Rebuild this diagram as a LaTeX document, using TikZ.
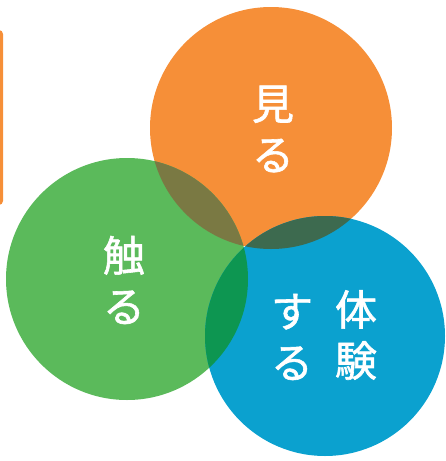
\documentclass[tikz,border=0pt]{standalone}
\usepackage{fontspec}
\newfontfamily\cjk[FakeBold=1.4]{Noto Sans CJK JP}
\definecolor{orangeC}{HTML}{F68F38}
\definecolor{greenC}{HTML}{5BBA5B}
\definecolor{blueC}{HTML}{0BA1CF}
\definecolor{ogC}{HTML}{7A7943}
\definecolor{obC}{HTML}{3D6A4F}
\definecolor{gbC}{HTML}{0D9651}
\begin{document}
\begin{tikzpicture}[x=1pt,y=-1pt,
  label/.style={text=white,align=center,inner sep=0pt,font=\cjk\fontsize{42}{51}\selectfont}]
\useasboundingbox (0,0) rectangle (445,461);
\coordinate (O) at (271,128);
\coordinate (G) at (127,279);
\coordinate (B) at (325,336);
% left bar
\fill[orangeC, rounded corners=4pt] (-12,30) rectangle (3,205);
% circles
\fill[orangeC] (O) circle[radius=121pt];
\fill[greenC] (G) circle[radius=121pt];
\fill[blueC] (B) circle[radius=120pt];
% overlaps
\begin{scope}
  \clip (O) circle[radius=121pt];
  \fill[ogC] (G) circle[radius=121pt];
\end{scope}
\begin{scope}
  \clip (O) circle[radius=121pt];
  \fill[obC] (B) circle[radius=120pt];
\end{scope}
\begin{scope}
  \clip (G) circle[radius=121pt];
  \fill[gbC] (B) circle[radius=120pt];
\end{scope}
% labels
\node[label] (miru) at (273,129) {見\\る};
\node[label] (sawaru) at (124,280) {触\\る};
\node[label] (taiken) at (356,335) {体\\験};
\node[label] (suru) at (292,337) {す\\る};
\end{tikzpicture}
\end{document}
